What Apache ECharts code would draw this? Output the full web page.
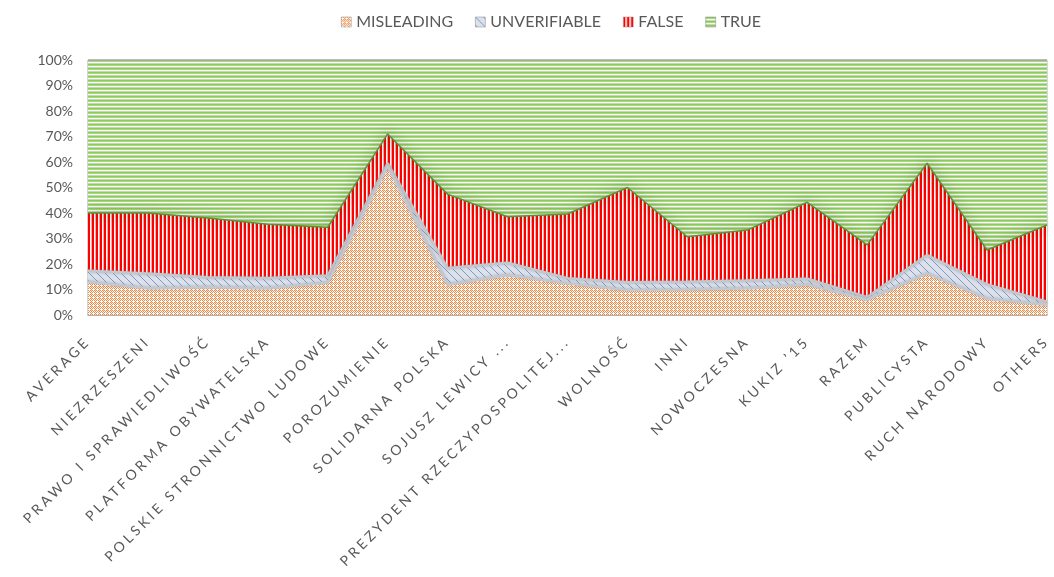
<!DOCTYPE html>
<html><head><meta charset="utf-8">
<script src="https://cdn.jsdelivr.net/npm/echarts@6/dist/echarts.min.js"></script>
<style>html,body{margin:0;padding:0;background:#fff}#c{width:1054px;height:577px}</style>
</head><body><div id="c"></div>
<script>
// ---- data (percent of statements) ----
const categories = ['AVERAGE','NIEZRZESZENI','PRAWO I SPRAWIEDLIWOŚĆ','PLATFORMA OBYWATELSKA','POLSKIE STRONNICTWO LUDOWE','POROZUMIENIE','SOLIDARNA POLSKA','SOJUSZ LEWICY ...','PREZYDENT RZECZYPOSPOLITEJ...','WOLNOŚĆ','INNI','NOWOCZESNA','KUKIZ ’15','RAZEM','PUBLICYSTA','RUCH NARODOWY','OTHERS'];
const misleading   = [13, 10.5, 11, 10.5, 12.7, 58.5, 12, 15.7, 12.4, 9.8, 10, 10.5, 12, 6, 16.3, 6.5, 4];
const unverifiable = [4.4, 5.8, 3.8, 4, 2.8, 1, 6.4, 4.8, 2, 3, 3, 3, 2.2, 1, 7.2, 5.5, 1.2];
const falseVals    = [22.6, 23.7, 23.2, 21.1, 18.9, 11.5, 29, 18, 25.2, 37.2, 17.7, 19.8, 30, 20.5, 36, 13.5, 30.1];
const trueVals     = [60, 60, 62, 64.4, 65.6, 29, 52.6, 61.5, 60.4, 50, 69.3, 66.7, 55.8, 72.5, 40.5, 74.5, 64.7];
const seriesNames  = ['MISLEADING','UNVERIFIABLE','FALSE','TRUE'];
const yTickStep = 10;

// letter-spaced category axis labels (as in the original)
(function(){
  const spaced = new Set(categories);
  const orig = CanvasRenderingContext2D.prototype.fillText;
  CanvasRenderingContext2D.prototype.fillText = function(t,x,y,m){
    const has = 'letterSpacing' in this;
    const f = this.font;
    if (has) {
      const want = spaced.has(t) ? '3.2px' : '0px';
      if (this.letterSpacing !== want) { this.letterSpacing = want; }
      this.font = f;
    }
    const r = m === undefined ? orig.call(this,t,x,y) : orig.call(this,t,x,y,m);
    if (has && this.letterSpacing !== '0px') { this.letterSpacing = '0px'; this.font = f; }
    return r;
  };
})();

function makeTile(rows, palette){
  const h = rows.length, w = rows[0].length;
  const c = document.createElement('canvas'); c.width = w; c.height = h;
  const g = c.getContext('2d');
  for (let y=0;y<h;y++) for (let x=0;x<w;x++){ g.fillStyle = palette[rows[y][x]]; g.fillRect(x,y,1,1); }
  return {image:c, repeat:'repeat'};
}
const patMis = makeTile(['owow','wwwo','owoa','wowo'], {o:'#EE8B48', w:'#FFFFFF', a:'#F7CFB2'});
const patUnv = makeTile([
  'bggggggg','gbgggggg','ggbggggg','gggbgggg','ggggbggg','gggggbgg','ggggggbg','gggggggb'
], {b:'#7D98CF', g:'#DCE1EA'});
const patFalse = makeTile(['rrwp'], {r:'#FF0000', w:'#FFFFFF', p:'#F6A8A8'});
const patTrue = makeTile(['g','l','w','s'], {g:'#8CCB55', l:'#A8D883', w:'#F7FBF2', s:'#C6D6B8'});
const patterns = [patMis, patUnv, patFalse, patTrue];
const valuesList = [misleading, unverifiable, falseVals, trueVals];
const zs = [5,4,3,2];
const lineStyles = [
  {color:'#C3C7CE', width:2.5, shadowBlur:3, shadowColor:'rgba(140,140,140,0.6)'},
  {color:'#C3C7CE', width:2.5, shadowBlur:3, shadowColor:'rgba(140,140,140,0.6)'},
  {color:'#5E8F3A', width:1.5, shadowBlur:12, shadowColor:'rgba(50,90,25,1)'},
  {color:'#A6A6A6', width:1.5}
];

const font = 'Lato';
const chart = echarts.init(document.getElementById('c'), null, {renderer:'canvas'});
chart.setOption({
  animation:false,
  backgroundColor:'#fff',
  legend:{
    top:9, left:336, itemWidth:10, itemHeight:10, itemGap:22,
    textStyle:{fontFamily:font, fontSize:16, color:'#595959'},
    data: seriesNames.map((n,i)=>({name:n, icon:'rect', itemStyle:{color:patterns[i], borderColor:'#888', borderWidth:0.5}}))
  },
  grid:{left:88, right:6, top:60, bottom:262, show:true, borderColor:'#A6A6A6', borderWidth:1, backgroundColor:'transparent'},
  xAxis:{
    type:'category', data:categories, boundaryGap:false,
    axisLine:{show:true, lineStyle:{color:'#A6A6A6', width:1.5}},
    axisTick:{show:false},
    axisLabel:{interval:0, rotate:45, margin:24, fontFamily:font, fontSize:14, color:'#595959'}
  },
  yAxis:{
    type:'value', min:0, max:100, interval:yTickStep,
    axisLine:{show:false}, axisTick:{show:false}, splitLine:{show:false},
    axisLabel:{formatter:'{value}%', margin:15, fontFamily:font, fontSize:14, color:'#595959'}
  },
  series: seriesNames.map((n,i)=>({
    name:n, type:'line', stack:'all', data:valuesList[i], symbol:'none', z:zs[i],
    lineStyle:lineStyles[i], areaStyle:{color:patterns[i], opacity:1},
    itemStyle:{color:patterns[i]}, emphasis:{disabled:true}
  }))
});
</script></body></html>
